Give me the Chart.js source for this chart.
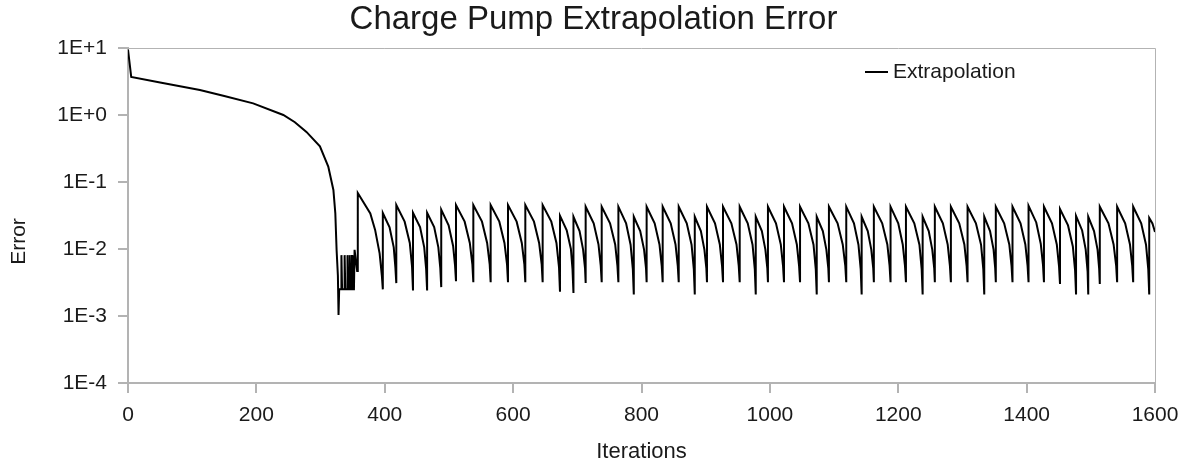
<!DOCTYPE html>
<html>
<head>
<meta charset="utf-8">
<title>Charge Pump Extrapolation Error</title>
<script src="https://cdn.jsdelivr.net/npm/chart.js@4.4.0/dist/chart.umd.min.js"></script>
<style>
  html, body { margin: 0; padding: 0; background: #fff; }
  #wrap { width: 1187px; height: 465px; }
</style>
</head>
<body>
<div id="wrap"><canvas id="errChart" width="1187" height="465"></canvas></div>
<script>
// ── data: [iteration, error] ──
const seriesName = 'Extrapolation';

// smooth fall from the start value to the first dip
const descent = [
  [0, 9.5], [5, 3.7], [50, 3.05], [112, 2.36], [150, 1.92], [195, 1.49], [242, 1.0],
  [260, 0.78], [278, 0.56], [299, 0.34], [312, 0.17], [320, 0.076], [323, 0.034],
  [325, 0.0096], [327, 0.004], [328, 0.00104]
];

// short comb of spikes right after the dip
const comb = [
  [329, 0.0025], [332, 0.0025], [332.5, 0.0081], [333.5, 0.0025], [337, 0.0025], [337.5, 0.0081],
  [338.5, 0.0025], [341.5, 0.0025], [342, 0.0081], [343, 0.0025], [345, 0.0025], [345.5, 0.0081],
  [346.5, 0.0025], [348.5, 0.0025], [349, 0.0081], [350, 0.0025], [352, 0.0025], [353, 0.0097],
  [357, 0.0047]
];

// sawtooth, one tooth per line: peak ... trough
const sawtooth = [
  [358, 0.0686], [377.5, 0.034], [385, 0.0193], [392, 0.0086], [395.5, 0.0040], [397, 0.0025],
  [397, 0.0344], [407.5, 0.021], [414, 0.0106], [416.5, 0.0054], [418, 0.0031],
  [418, 0.0454], [431, 0.0256], [439, 0.0123], [442.5, 0.0055], [444, 0.0024],
  [444, 0.0348], [455, 0.0212], [461.5, 0.0106], [464.5, 0.0050], [466, 0.0024],
  [466, 0.0348], [477, 0.0212], [483.5, 0.0106], [486.5, 0.0052], [488, 0.0027],
  [488, 0.0386], [499.5, 0.0225], [506.5, 0.0111], [509.5, 0.0057], [511, 0.0033],
  [511, 0.0454], [524.5, 0.0256], [532.5, 0.0123], [536.5, 0.0059], [538, 0.0032],
  [538, 0.0454], [551.5, 0.0256], [559.5, 0.0123], [563.5, 0.0059], [565, 0.0032],
  [565, 0.0454], [578.5, 0.0256], [586.5, 0.0123], [590.5, 0.0059], [592, 0.0032],
  [592, 0.0454], [605.5, 0.0256], [613.5, 0.0123], [617.5, 0.0059], [619, 0.0032],
  [619, 0.0454], [632.5, 0.0256], [640.5, 0.0123], [644.5, 0.0059], [646, 0.0032],
  [646, 0.0454], [659.5, 0.0256], [667.5, 0.0123], [671.5, 0.0053], [673, 0.0023],
  [673, 0.0314], [683.5, 0.019], [690, 0.0100], [692.5, 0.0050], [694, 0.0022],
  [694, 0.0303], [703.5, 0.0185], [709, 0.0098], [712, 0.0052], [713, 0.0031],
  [713, 0.0428], [725.5, 0.0242], [733, 0.0117], [736.5, 0.0056], [738, 0.0032],
  [738, 0.0428], [751, 0.0242], [759, 0.0117], [762.5, 0.0056], [764, 0.0032],
  [764, 0.0428], [776, 0.0242], [783, 0.0116], [786.5, 0.0050], [788, 0.0021],
  [788, 0.0303], [798, 0.0185], [804, 0.0098], [807, 0.0052], [808, 0.0032],
  [808, 0.0428], [820.5, 0.0242], [828, 0.0117], [831.5, 0.0056], [833, 0.0032],
  [833, 0.0428], [845.5, 0.0242], [853, 0.0117], [856.5, 0.0056], [858, 0.0032],
  [858, 0.0428], [870.5, 0.0242], [878, 0.0116], [881.5, 0.0050], [883, 0.0021],
  [883, 0.0303], [892.5, 0.0185], [898, 0.0098], [901, 0.0052], [902, 0.0032],
  [902, 0.0428], [914.5, 0.0242], [922, 0.0117], [925.5, 0.0056], [927, 0.0032],
  [927, 0.0428], [940, 0.0242], [948, 0.0117], [951.5, 0.0056], [953, 0.0032],
  [953, 0.0428], [965.5, 0.0242], [973, 0.0116], [976.5, 0.0050], [978, 0.0021],
  [978, 0.0303], [987.5, 0.0185], [993, 0.0098], [996, 0.0052], [997, 0.0032],
  [997, 0.0428], [1009.5, 0.0242], [1017, 0.0117], [1020.5, 0.0056], [1022, 0.0032],
  [1022, 0.0428], [1034.5, 0.0242], [1042, 0.0117], [1045.5, 0.0056], [1047, 0.0032],
  [1047, 0.0428], [1060, 0.0242], [1068, 0.0116], [1071.5, 0.0050], [1073, 0.0021],
  [1073, 0.0303], [1082.5, 0.0185], [1088, 0.0098], [1091, 0.0052], [1092, 0.0032],
  [1092, 0.0428], [1105.5, 0.0242], [1113.5, 0.0117], [1117.5, 0.0056], [1119, 0.0032],
  [1119, 0.0428], [1131, 0.0242], [1138, 0.0116], [1141.5, 0.0050], [1143, 0.0021],
  [1143, 0.0303], [1152.5, 0.0185], [1158, 0.0098], [1161, 0.0052], [1162, 0.0032],
  [1162, 0.0428], [1175, 0.0242], [1183, 0.0117], [1186.5, 0.0056], [1188, 0.0032],
  [1188, 0.0428], [1200, 0.0242], [1207, 0.0117], [1210.5, 0.0056], [1212, 0.0032],
  [1212, 0.0428], [1225, 0.0242], [1233, 0.0116], [1236.5, 0.0050], [1238, 0.0021],
  [1238, 0.0303], [1247.5, 0.0185], [1253, 0.0098], [1256, 0.0052], [1257, 0.0032],
  [1257, 0.0428], [1269.5, 0.0242], [1277, 0.0117], [1280.5, 0.0056], [1282, 0.0032],
  [1282, 0.0428], [1295, 0.0242], [1303, 0.0117], [1306.5, 0.0056], [1308, 0.0032],
  [1308, 0.0428], [1321, 0.0242], [1329, 0.0116], [1332.5, 0.0050], [1334, 0.0021],
  [1334, 0.0303], [1343, 0.0185], [1348.5, 0.0098], [1351, 0.0052], [1352, 0.0032],
  [1352, 0.0428], [1365, 0.0242], [1373, 0.0117], [1376.5, 0.0056], [1378, 0.0032],
  [1378, 0.0428], [1390.5, 0.0242], [1398, 0.0117], [1401.5, 0.0056], [1403, 0.0032],
  [1403, 0.0441], [1415, 0.0249], [1422, 0.0120], [1425.5, 0.0058], [1427, 0.0032],
  [1427, 0.0428], [1439.5, 0.0242], [1447, 0.0117], [1450.5, 0.0055], [1452, 0.0030],
  [1452, 0.0395], [1464.5, 0.0225], [1472, 0.0109], [1475.5, 0.0048], [1477, 0.0021],
  [1477, 0.0311], [1486.5, 0.0189], [1492, 0.0099], [1495, 0.0046], [1496, 0.0021],
  [1496, 0.0303], [1505, 0.0185], [1510.5, 0.0098], [1513, 0.0051], [1514, 0.0030],
  [1514, 0.0428], [1527.5, 0.0242], [1535.5, 0.0117], [1539.5, 0.0056], [1541, 0.0032],
  [1541, 0.0428], [1553.5, 0.0242], [1561, 0.0117], [1564.5, 0.0056], [1566, 0.0032],
  [1566, 0.0428], [1578.5, 0.0242], [1586, 0.0116], [1589.5, 0.0050], [1591, 0.0021],
  [1591, 0.029], [1596, 0.024], [1600, 0.018]
];

const xMin = 0, xMax = 1600, xStep = 200;
const yTickValues = [1e-4, 1e-3, 1e-2, 1e-1, 1e0, 1e1];
const yTickLabels = ['1E-4', '1E-3', '1E-2', '1E-1', '1E+0', '1E+1'];
const yTitle = 'Error';

const FONT = "'Liberation Sans', Arial, sans-serif";
const TEXT = '#1a1a1a';
const AXIS_GREY = '#b3b3b3';

// plot frame (top/right edges), y-axis title and the in-plot legend
const frameAndLegend = {
  id: 'frameAndLegend',
  beforeDatasetsDraw(chart) {
    const { ctx, chartArea: a } = chart;
    ctx.save();
    ctx.strokeStyle = AXIS_GREY;
    ctx.lineWidth = 1;
    ctx.beginPath();
    ctx.moveTo(a.left, Math.round(a.top) + 0.5);
    ctx.lineTo(Math.round(a.right) + 0.5, Math.round(a.top) + 0.5);
    ctx.lineTo(Math.round(a.right) + 0.5, a.bottom);
    ctx.stroke();
    ctx.restore();
  },
  afterDraw(chart) {
    const { ctx, chartArea: a } = chart;
    const ds = chart.data.datasets[0];
    const lx = a.right - 290, ly = a.top + 24;
    ctx.save();
    ctx.strokeStyle = ds.borderColor;
    ctx.lineWidth = 2;
    ctx.beginPath();
    ctx.moveTo(lx, ly);
    ctx.lineTo(lx + 23, ly);
    ctx.stroke();
    ctx.fillStyle = TEXT;
    ctx.font = '21px ' + FONT;
    ctx.textBaseline = 'middle';
    ctx.textAlign = 'left';
    ctx.fillText(ds.label, lx + 28, ly);
    // y axis title, sits a little below the plot middle as in the original
    ctx.translate(19, (a.top + a.bottom) / 2 + 26);
    ctx.rotate(-Math.PI / 2);
    ctx.textAlign = 'center';
    ctx.fillText(yTitle, 0, 0);
    ctx.restore();
  }
};

const points = [...descent, ...comb, ...sawtooth].map(([x, y]) => ({ x, y }));

new Chart(document.getElementById('errChart'), {
  type: 'line',
  data: {
    datasets: [{
      label: seriesName,
      data: points,
      borderColor: '#000',
      borderWidth: 2,
      pointRadius: 0,
      tension: 0,
      fill: false
    }]
  },
  options: {
    responsive: false,
    animation: false,
    layout: { padding: 0 },
    plugins: {
      legend: { display: false },
      tooltip: { enabled: false },
      title: {
        display: true,
        text: 'Charge Pump Extrapolation Error',
        color: TEXT,
        font: { family: FONT, size: 33, weight: 'normal' },
        padding: { top: 0, bottom: 8.4 }
      }
    },
    scales: {
      x: {
        type: 'linear',
        min: xMin, max: xMax,
        ticks: {
          stepSize: xStep, color: TEXT, font: { family: FONT, size: 21 }, padding: 10, maxRotation: 0,
          callback: v => String(v)
        },
        grid: { drawOnChartArea: false, color: AXIS_GREY, tickLength: 10, lineWidth: 2 },
        border: { color: AXIS_GREY, width: 2 },
        title: { display: true, text: 'Iterations', color: TEXT, font: { family: FONT, size: 22 }, padding: { top: 0, bottom: 0 } },
        afterFit: s => { s.height = 82; s.paddingRight = 32; s.paddingLeft = 0; }
      },
      y: {
        type: 'logarithmic',
        min: yTickValues[0], max: yTickValues[yTickValues.length - 1],
        afterBuildTicks: s => { s.ticks = yTickValues.map(v => ({ value: v })); },
        ticks: {
          color: TEXT, font: { family: FONT, size: 21 }, padding: 11,
          callback: v => yTickLabels[yTickValues.findIndex(t => Math.abs(Math.log10(t) - Math.log10(v)) < 1e-6)]
        },
        grid: { drawOnChartArea: false, color: AXIS_GREY, tickLength: 10, lineWidth: 2 },
        border: { color: AXIS_GREY, width: 2 },
        afterFit: s => { s.width = 128; s.paddingTop = 0; s.paddingBottom = 0; }
      }
    }
  },
  plugins: [frameAndLegend]
});
</script>
</body>
</html>
